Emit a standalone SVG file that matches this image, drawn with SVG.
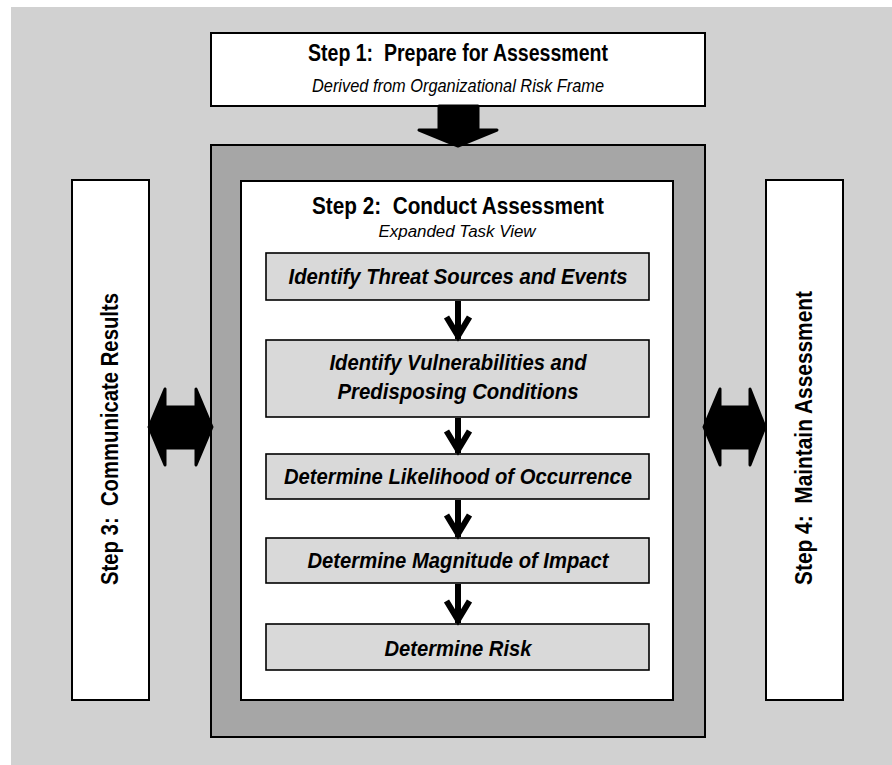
<svg xmlns="http://www.w3.org/2000/svg" width="892" height="765" viewBox="0 0 892 765">
<defs>
<marker id="vhead" markerUnits="userSpaceOnUse" markerWidth="40" markerHeight="40" viewBox="-30 -20 40 40" refX="0" refY="0" orient="auto" overflow="visible">
<path d="M-22,-11.5 L-3,0 L-22,11.5" fill="none" stroke="#000" stroke-width="6" stroke-linejoin="miter" stroke-linecap="butt"/>
</marker>
</defs>
<style>
.bg{fill:#D1D1D1}
.box{fill:#FFFFFF;stroke:#000;stroke-width:2}
.frame{fill:#A6A6A6;stroke:#000;stroke-width:2}
.task{fill:#D9D9D9;stroke:#000;stroke-width:1.6}
.big{fill:#000;stroke:#000;stroke-width:3;stroke-linejoin:round}
.flow{stroke:#000;stroke-width:6;fill:none;marker-end:url(#vhead)}
text{font-family:"Liberation Sans",Arial,Helvetica,sans-serif;fill:#000;text-anchor:middle;white-space:pre}
.title{font-size:23px;font-weight:bold}
.sub{font-size:18px;font-style:italic}
.sub2{font-size:16px;font-style:italic}
.tt{font-size:22px;font-weight:bold;font-style:italic}
</style>
<rect class="bg" x="11" y="7" width="881" height="758"/>

<g id="step1">
<rect class="box" x="211" y="33" width="494" height="73"/>
<text class="title" x="458" y="61" textLength="300" lengthAdjust="spacingAndGlyphs" xml:space="preserve">Step 1:  Prepare for Assessment</text>
<text class="sub" x="458" y="92" textLength="292" lengthAdjust="spacingAndGlyphs">Derived from Organizational Risk Frame</text>
</g>

<g id="step2">
<rect class="frame" x="211" y="145" width="494" height="592"/>
<rect class="box" x="241" y="181" width="432" height="519"/>
<text class="title" x="458" y="214" textLength="292" lengthAdjust="spacingAndGlyphs" xml:space="preserve">Step 2:  Conduct Assessment</text>
<text class="sub2" x="457" y="237" textLength="157" lengthAdjust="spacingAndGlyphs">Expanded Task View</text>
</g>

<g id="step3">
<rect class="box" x="72" y="180" width="77" height="520"/>
<text class="title" transform="translate(118,439) rotate(-90)" textLength="292" lengthAdjust="spacingAndGlyphs" xml:space="preserve">Step 3:  Communicate Results</text>
</g>

<g id="step4">
<rect class="box" x="766" y="180" width="77" height="520"/>
<text class="title" transform="translate(812,438) rotate(-90)" textLength="294" lengthAdjust="spacingAndGlyphs" xml:space="preserve">Step 4:  Maintain Assessment</text>
</g>

<g id="task1">
<rect class="task" x="266" y="253" width="383" height="47"/>
<text class="tt" x="458" y="284" textLength="339" lengthAdjust="spacingAndGlyphs">Identify Threat Sources and Events</text>
</g>
<g id="task2">
<rect class="task" x="266" y="340" width="383" height="77"/>
<text class="tt" x="458" y="370" textLength="257" lengthAdjust="spacingAndGlyphs">Identify Vulnerabilities and</text>
<text class="tt" x="458" y="399" textLength="241" lengthAdjust="spacingAndGlyphs">Predisposing Conditions</text>
</g>
<g id="task3">
<rect class="task" x="266" y="454" width="383" height="45"/>
<text class="tt" x="458" y="484" textLength="348" lengthAdjust="spacingAndGlyphs">Determine Likelihood of Occurrence</text>
</g>
<g id="task4">
<rect class="task" x="266" y="538" width="383" height="45"/>
<text class="tt" x="458" y="568" textLength="301" lengthAdjust="spacingAndGlyphs">Determine Magnitude of Impact</text>
</g>
<g id="task5">
<rect class="task" x="266" y="624" width="383" height="46"/>
<text class="tt" x="458" y="656" textLength="147" lengthAdjust="spacingAndGlyphs">Determine Risk</text>
</g>

<g id="connectors">
<polygon class="big" points="439,106 478,106 478,130 497,130 458,146 419,130 439,130"/>
<polygon class="big" points="149,427 165,389 165,407 196,407 196,389 212,427 196,465 196,448 165,448 165,465"/>
<polygon class="big" points="704,427 720,389 720,407 750,407 750,389 765,427 750,465 750,448 720,448 720,465"/>
<line class="flow" x1="458" y1="301" x2="458" y2="339"/>
<line class="flow" x1="458" y1="418" x2="458" y2="453"/>
<line class="flow" x1="458" y1="500" x2="458" y2="537"/>
<line class="flow" x1="458" y1="584" x2="458" y2="623"/>
</g>
</svg>
